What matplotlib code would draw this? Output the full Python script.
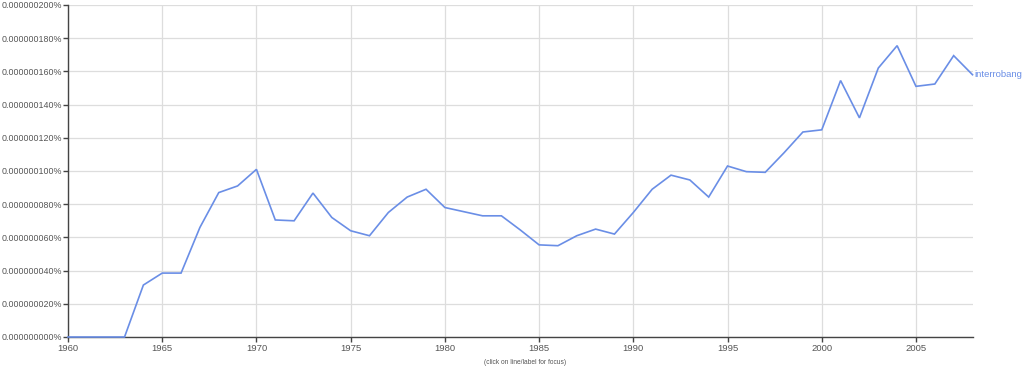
import matplotlib
matplotlib.use("Agg")
import matplotlib.pyplot as plt
import numpy as np

years = list(range(1960, 2009))
values = [0, 0, 0, 0, 31.3, 38.5, 38.5, 66, 87, 91,
          101, 70.5, 70, 86.7, 72, 64, 61, 75, 84.3, 89,
          78, 75.5, 73, 73, 64.5, 55.5, 55, 61, 65, 62,
          75, 89, 97.5, 94.6, 84.3, 103, 99.6, 99.2, 111, 123.5,
          124.8, 154.5, 132, 162, 175.5, 151, 152.4, 169.5, 158]
values = [v * 1e-9 for v in values]  # percent units
series_label = "interrobang"
x_ticks = list(range(1960, 2010, 5))
y_ticks = [i * 20e-9 for i in range(11)]

plt.rcParams['font.family'] = ['Liberation Sans', 'DejaVu Sans']
fig = plt.figure(figsize=(10.24, 3.68), dpi=100)
ax = fig.add_axes([68/1024, 1-337/368, (972.5-68)/1024, (337-5)/368])

line_color = '#6a8ee6'
ax.plot(years, values, color=line_color, lw=1.2, solid_joinstyle='miter', clip_on=False, zorder=3)
ax.text(years[-1] + 0.1, values[-1], series_label, color=line_color, fontsize=6.8,
        va='center', ha='left', clip_on=False)

ax.set_xlim(1960, 2008)
ax.set_ylim(0, 200e-9)
ax.set_xticks(x_ticks)
ax.set_xticklabels([str(t) for t in x_ticks])
ax.set_yticks(y_ticks)
ax.set_yticklabels(["%.9f%%" % (v) for v in y_ticks])
ax.grid(True, color='#dddddd', lw=0.9)
ax.set_axisbelow(True)
for s in ['top', 'right']:
    ax.spines[s].set_visible(False)
for s in ['left', 'bottom']:
    ax.spines[s].set_color('#444444')
    ax.spines[s].set_linewidth(1.0)
ax.tick_params(axis='both', colors='#444444', labelcolor='#555555',
               length=3.5, width=1.0, pad=1.5)
ax.tick_params(axis='x', labelsize=6.8)
ax.tick_params(axis='y', labelsize=6.4, pad=1.0)

fig.text(525/1024, 1-362/368, "(click on line/label for focus)", fontsize=4.8,
         color='#555555', ha='center', va='center')

fig.savefig("out.png", dpi=100, facecolor='white')
